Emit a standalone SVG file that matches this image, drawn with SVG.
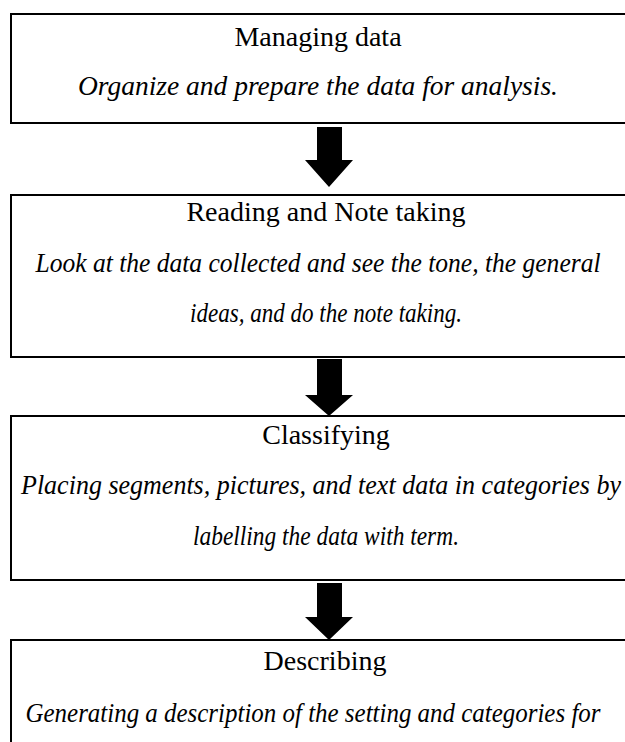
<svg xmlns="http://www.w3.org/2000/svg" width="625" height="742" viewBox="0 0 625 742">
<style>
.box{fill:#fff;stroke:#000;stroke-width:2}
.t{font-family:"Liberation Serif","Times New Roman",serif;font-size:28px;fill:#000;text-anchor:middle}
.i{font-style:italic}
.arr{fill:#000}
</style>
<rect width="625" height="742" fill="#fff"/>
<g id="node1">
<rect class="box" x="11" y="14" width="640" height="109"/>
<text class="t" x="318" y="46">Managing data</text>
<text class="t i" x="318" y="95" textLength="480" lengthAdjust="spacingAndGlyphs">Organize and prepare the data for analysis.</text>
</g>
<g id="node2">
<rect class="box" x="11" y="195" width="640" height="162"/>
<text class="t" x="326" y="221">Reading and Note taking</text>
<text class="t i" x="318" y="272" textLength="565" lengthAdjust="spacingAndGlyphs">Look at the data collected and see the tone, the general</text>
<text class="t i" x="326" y="322" textLength="272" lengthAdjust="spacingAndGlyphs">ideas, and do the note taking.</text>
</g>
<g id="node3">
<rect class="box" x="11" y="416" width="640" height="164"/>
<text class="t" x="326" y="444">Classifying</text>
<text class="t i" x="321" y="494" textLength="600" lengthAdjust="spacingAndGlyphs">Placing segments, pictures, and text data in categories by</text>
<text class="t i" x="326" y="545" textLength="266" lengthAdjust="spacingAndGlyphs">labelling the data with term.</text>
</g>
<g id="node4">
<rect class="box" x="11" y="640" width="640" height="120"/>
<text class="t" x="325" y="670">Describing</text>
<text class="t i" x="313" y="722" textLength="575" lengthAdjust="spacingAndGlyphs">Generating a description of the setting and categories for</text>
</g>
<g id="connectors">
<polygon class="arr" points="317,127 342,127 342,160 353,160 329,187 305,160 317,160"/>
<polygon class="arr" points="317,359 342,359 342,395 353,395 329,416 305,395 317,395"/>
<polygon class="arr" points="317,583 342,583 342,617 353,617 329,640 305,617 317,617"/>
</g>
</svg>
